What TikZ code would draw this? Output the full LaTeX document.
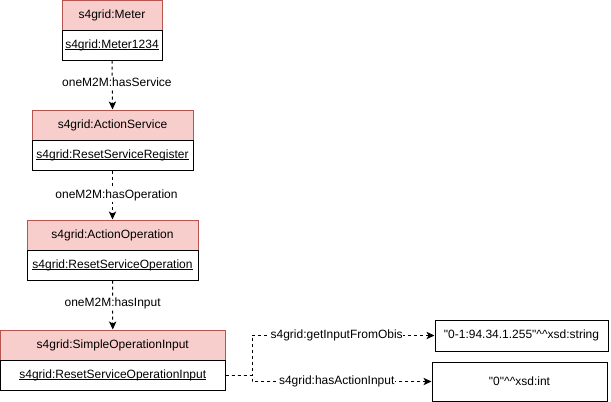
\documentclass[tikz,border=0pt]{standalone}
\usepackage{fontspec}
\setmainfont{Liberation Sans}[Ligatures=TeXOff]
\usetikzlibrary{arrows.meta}
\definecolor{hdrfill}{HTML}{F8CECC}
\definecolor{hdrline}{HTML}{B85450}
\newcommand\myul[1]{\setbox0\hbox{#1}\rlap{\rule[-1.6pt]{\wd0}{0.6pt}}\box0}
\begin{document}
\begin{tikzpicture}[x=0.75pt,y=-0.75pt,
  txt/.style={font=\fontsize{9}{11}\selectfont},
  hdr/.style={txt,draw=hdrline,fill=hdrfill,line width=0.75pt,minimum height=22.5pt,inner sep=0pt},
  bdy/.style={txt,draw=black,fill=white,line width=0.75pt,minimum height=22.5pt,inner sep=0pt},
  lit/.style={txt,draw=black,fill=white,line width=0.75pt,inner sep=0pt},
  rel/.style={draw=black,line width=0.75pt,dash pattern=on 2.25pt off 2.25pt,-{Stealth[length=6pt,width=5.5pt,inset=1.5pt]}},
  lbl/.style={txt,fill=white,inner sep=1pt}]
\useasboundingbox (0,0) rectangle (611,401);

% Meter
\node[hdr,minimum width=75pt] (mh) at (112,15.5) {s4grid:Meter};
\node[bdy,minimum width=75pt] (mb) at (112,45) {\myul{s4grid:Meter1234}};
% ActionService
\node[hdr,minimum width=120.75pt] (sh) at (112.5,125) {s4grid:ActionService};
\node[bdy,minimum width=120.75pt] (sb) at (112.5,155) {\myul{s4grid:ResetServiceRegister}};
% ActionOperation
\node[hdr,minimum width=128.25pt] (oh) at (112.5,235) {s4grid:ActionOperation};
\node[bdy,minimum width=128.25pt] (ob) at (112.5,265) {\myul{s4grid:ResetServiceOperation}};
% SimpleOperationInput
\node[hdr,minimum width=168.4pt] (ih) at (112.75,345) {s4grid:SimpleOperationInput};
\node[bdy,minimum width=168.4pt] (ib) at (112.75,375) {\myul{s4grid:ResetServiceOperationInput}};
% Literals
\node[lit,minimum width=129.75pt,minimum height=23.25pt] (l1) at (521.5,335.5) {"0-1:94.34.1.255"\textasciicircum\textasciicircum xsd:string};
\node[lit,minimum width=131.25pt,minimum height=29.25pt] (l2) at (519.5,381.5) {"0"\textasciicircum\textasciicircum xsd:int};

% relations
\draw[rel] (mb.south) -- node[lbl,xshift=3.5pt,yshift=2pt] {oneM2M:hasService} (sh.north);
\draw[rel] (sb.south) -- node[lbl,xshift=3pt] {oneM2M:hasOperation} (oh.north);
\draw[rel] (ob.south) -- node[lbl,yshift=1.5pt] {oneM2M:hasInput} (ih.north);
\coordinate (br) at (252,375);
\draw[rel] (ib.east) -- (br) |- node[lbl,pos=0.732,inner sep=0.5pt] {s4grid:getInputFromObis} (l1.west);
\draw[rel] (ib.east) -- (br) |- node[lbl,pos=0.736,inner sep=0.5pt] {s4grid:hasActionInput} (l2.west);
\end{tikzpicture}
\end{document}
